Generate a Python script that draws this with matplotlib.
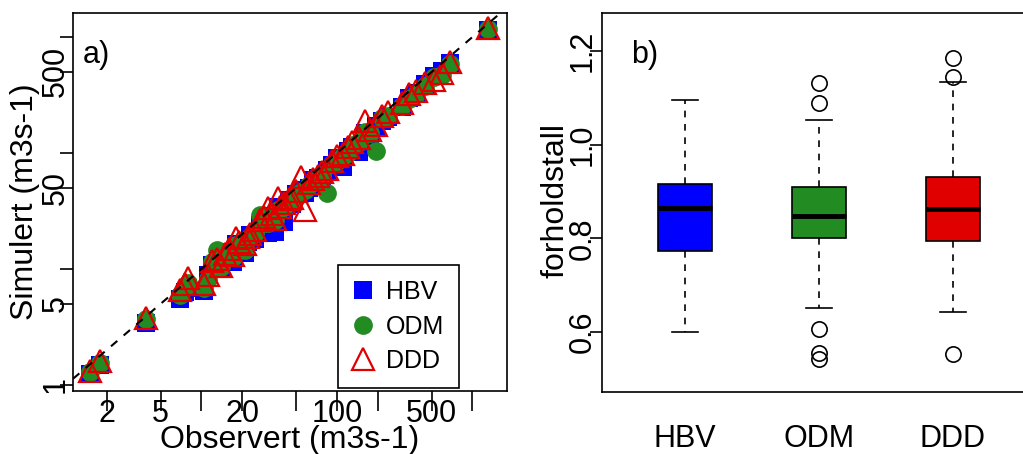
# %%
import numpy as np
import matplotlib.pyplot as plt

plt.rcParams["font.family"] = ["Liberation Sans", "DejaVu Sans"]

# %%
# Panel a: observed vs simulated mean flow (m3s-1), one value per station
models = ["HBV", "ODM", "DDD"]
observed = [1.5, 1.8, 3.9, 7.0, 7.6, 8.0, 10.5, 11.2, 12, 13, 14, 15, 16, 17, 18,
            19, 21, 22, 23, 25, 27, 29, 31, 33, 35, 37, 38, 41, 44, 47, 50, 54,
            58, 62, 67, 72, 78, 84, 92, 100, 110, 120, 130, 145, 160, 175, 195,
            215, 240, 300, 340, 380, 450, 520, 600, 680, 1300]
sim_hbv = [1.25, 1.5, 3.4, 5.5, 6.3, 6.9, 6.5, 8.8, 10.8, 11.2, 10.0, 12.0, 14.0,
           11.5, 16.5, 15.8, 13.6, 17.0, 19.5, 18.2, 24.0, 26.0, 20.5, 28.5, 21.0,
           34.0, 32.0, 25.5, 39.0, 36.0, 44.0, 48.0, 45.0, 50.0, 58.0, 61.0, 60.0,
           72.0, 78.0, 90.0, 75.0, 104, 112, 101, 150, 140, 170, 190, 205, 250,
           300, 330, 390, 460, 505, 600, 1150]
sim_odm = [1.3, 1.55, 3.7, 6.0, 6.9, 7.5, 6.8, 8.2, 11.4, 14.7, 10.4, 12.9, 13.5,
           12.6, 16.2, 16.2, 14.5, 18.0, 19.0, 20.5, 29.4, 24.8, 25.0, 27.8, 26.5,
           32.5, 33.0, 34.0, 37.5, 38.5, 42.0, 46.5, 48.0, 52.5, 56.0, 60.0, 64.0,
           45.0, 80.0, 86.0, 95.0, 100, 118, 125, 152, 150, 105, 200, 210, 255,
           290, 320, 380, 450, 470, 590, 1170]
sim_ddd = [1.32, 1.62, 3.8, 6.6, 7.4, 8.3, 7.4, 8.9, 11.8, 12.1, 10.6, 13.5, 14.8,
           13.2, 18.4, 17.0, 16.4, 18.7, 20.2, 21.6, 26.5, 28.0, 33.5, 30.0, 27.0,
           40.7, 34.0, 37.0, 40.5, 41.0, 47.0, 62.0, 32.0, 55.0, 60.0, 63.0, 68.0,
           73.0, 85.0, 95.0, 98.0, 112, 125, 135, 190, 158, 175, 210, 225, 270,
           320, 345, 400, 430, 490, 610, 1200]

# Panel b: ratio simulated/observed, box statistics per model
box_q1 = [0.774, 0.800, 0.794]
box_med = [0.864, 0.847, 0.862]
box_q3 = [0.917, 0.909, 0.930]
whisk_lo = [0.600, 0.651, 0.643]
whisk_hi = [1.096, 1.053, 1.134]
outliers = [[], [1.132, 1.088, 0.606, 0.555, 0.542], [1.185, 1.145, 0.553]]

colors = ["#0000FF", "#228B22", "#E00000"]

# %%
W, H = 1023, 454
fig = plt.figure(figsize=(W / 100, H / 100), dpi=100)
FS = 22   # tick labels
FL = 23   # axis labels


def px_box(l, t, r, b):
    return [l / W, 1 - b / H, (r - l) / W, (b - t) / H]


# Scatter panel
ax1 = fig.add_axes(px_box(73, 13, 507, 391))
ax1.set_xscale("log")
ax1.set_yscale("log")
h1, = ax1.plot(observed, sim_hbv, "s", color=colors[0], ms=13.5, mew=0)
h2, = ax1.plot(observed, sim_odm, "o", color=colors[1], ms=13.5, mew=0)
h3, = ax1.plot(observed, sim_ddd, "^", mfc="none", mec=colors[2], ms=15.5, mew=1.6)
ax1.axline((1, 1), (1000, 1000), color="black", lw=1.5, ls=(0, (4, 4)))
ax1.set_xlim(1.13, 1797)
ax1.set_ylim(0.887, 1610)

xt = [2, 5, 10, 20, 50, 100, 200, 500, 1000]
xl = ["2", "5", "", "20", "", "100", "", "500", ""]
yt = [1, 5, 10, 50, 100, 500, 1000]
yl = ["1", "5", "", "50", "", "500", ""]
ax1.xaxis.set_major_locator(plt.FixedLocator(xt))
ax1.xaxis.set_major_formatter(plt.FixedFormatter(xl))
ax1.yaxis.set_major_locator(plt.FixedLocator(yt))
ax1.yaxis.set_major_formatter(plt.FixedFormatter(yl))
ax1.xaxis.set_minor_locator(plt.NullLocator())
ax1.yaxis.set_minor_locator(plt.NullLocator())
ax1.tick_params(axis="x", length=14.4, width=1.2, pad=-8.6, labelsize=FS)
ax1.tick_params(axis="y", length=9.4, width=1.2, pad=-7.5, labelsize=FS,
                labelrotation=90)
for t in ax1.get_yticklabels():
    t.set_va("center")
for s in ax1.spines.values():
    s.set_linewidth(1.2)
ax1.text(0.055, 0.889, "a)", transform=ax1.transAxes, fontsize=FS,
         ha="center", va="center")

leg = ax1.legend([h1, h2, h3], models, loc="lower left", fontsize=18,
                 bbox_to_anchor=(338 / W, 1 - 388 / H),
                 bbox_transform=fig.transFigure, frameon=True, fancybox=False,
                 edgecolor="black", framealpha=1, borderpad=0.6,
                 labelspacing=0.42, handlelength=0.8, handletextpad=0.5,
                 borderaxespad=0)
leg.get_frame().set_linewidth(1.2)

fig.text(25 / W, 1 - 202 / H, "Simulert (m3s-1)", rotation=90, fontsize=FL,
         ha="center", va="center")
fig.text(290 / W, 1 - 440 / H, "Observert (m3s-1)", fontsize=FL,
         ha="center", va="center")

# %%
# Boxplot panel
ax2 = fig.add_axes(px_box(602, 13, 1036, 392))
stats = []
for i, m in enumerate(models):
    stats.append(dict(label=m, q1=box_q1[i], med=box_med[i], q3=box_q3[i],
                      whislo=whisk_lo[i], whishi=whisk_hi[i],
                      fliers=outliers[i]))
bp = ax2.bxp(stats, positions=[1, 2, 3], widths=0.4, capwidths=0.2,
             patch_artist=True,
             boxprops=dict(linewidth=1.2, edgecolor="black"),
             medianprops=dict(color="black", linewidth=3.5),
             whiskerprops=dict(color="black", linewidth=1.2, linestyle=(0, (4, 4))),
             capprops=dict(color="black", linewidth=1.2),
             flierprops=dict(marker="o", mfc="none", mec="black", ms=11, mew=1.2))
for patch, c in zip(bp["boxes"], colors):
    patch.set_facecolor(c)
ax2.set_xlim(0.38, 3.62)
ax2.set_ylim(0.472, 1.281)
ax2.set_yticks([0.6, 0.8, 1.0, 1.2])
ax2.set_yticklabels(["0.6", "0.8", "1.0", "1.2"])
ax2.tick_params(axis="x", length=0, pad=23, labelsize=FS)
ax2.tick_params(axis="y", length=8.6, width=1.2, pad=-5.8, labelsize=FS,
                labelrotation=90)
for t in ax2.get_yticklabels():
    t.set_va("center")
for s in ax2.spines.values():
    s.set_linewidth(1.2)
ax2.text(0.099, 0.889, "b)", transform=ax2.transAxes, fontsize=FS,
         ha="center", va="center")
fig.text(555 / W, 1 - 200 / H, "forholdstall", rotation=90, fontsize=FL,
         ha="center", va="center")

fig.savefig("out.png", dpi=100, facecolor="white")
